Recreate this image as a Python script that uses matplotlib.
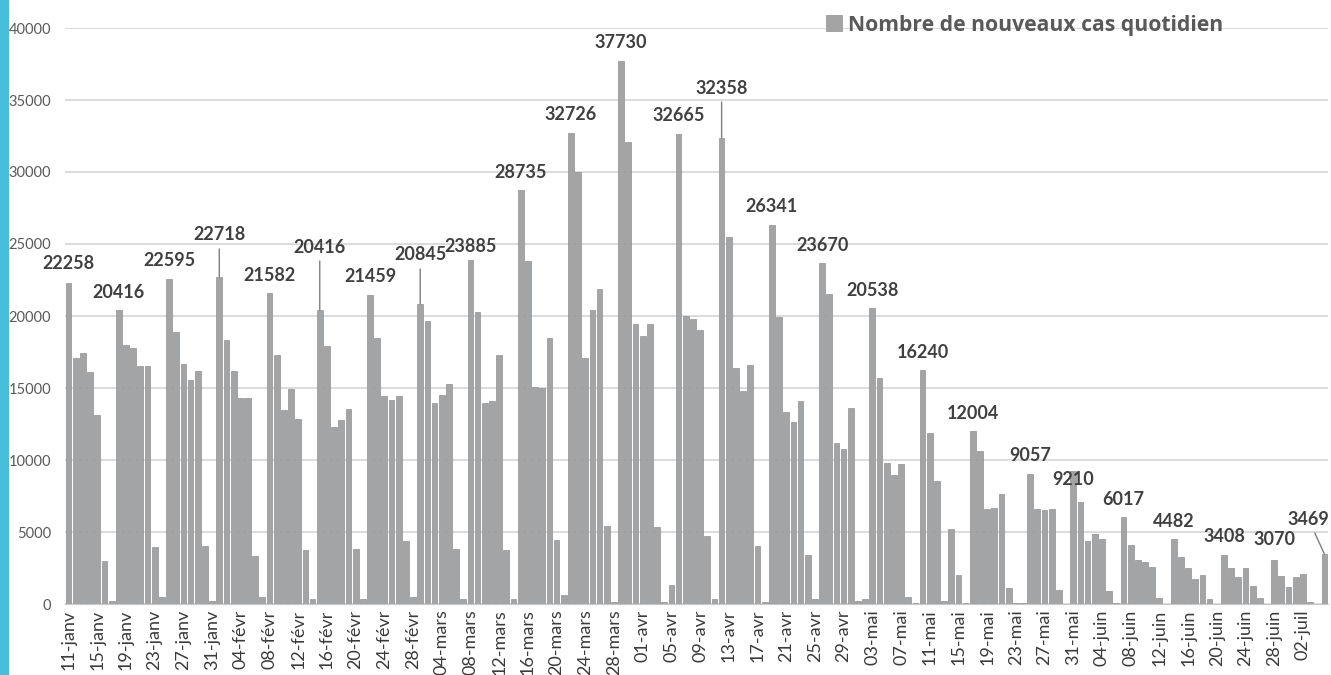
import numpy as np
import pandas as pd
import matplotlib.pyplot as plt
from matplotlib.patches import Rectangle

plt.rcParams['font.family'] = ['Lato', 'DejaVu Sans']

# daily new cases, one list per month (11-janv -> 05-juil)
janv = [22258, 17100, 17400, 16100, 13100, 3000, 200,
        20416, 18000, 17800, 16500, 16500, 3950, 500,
        22595, 18900, 16650, 15560, 16200, 4000, 230]
fevr = [22718, 18300, 16200, 14300, 14300, 3300, 500,
        21582, 17260, 13500, 14900, 12860, 3770, 330,
        20416, 17950, 12300, 12800, 13560, 3840, 330,
        21459, 18500, 14470, 14140, 14470, 4400, 470]
mars = [20845, 19650, 13950, 14500, 15300, 3840, 330,
        23885, 20300, 13950, 14100, 17260, 3770, 340,
        28735, 23800, 15060, 14970, 18460, 4430, 630,
        32726, 30000, 17100, 20400, 21860, 5430, 140,
        37730, 32060, 19460]
avr = [18630, 19460, 5340, 140,
       1340, 32665, 20000, 19770, 19060, 4710, 370,
       32358, 25500, 16400, 14770, 16570, 4030, 140,
       26341, 19900, 13340, 12630, 14110, 3430, 370,
       23670, 21500, 11200, 10770, 13630]
mai = [200, 340,
       20538, 15690, 9770, 8970, 9690, 470, 100,
       16240, 11860, 8560, 230, 5190, 1980, 70,
       12004, 10650, 6630, 6700, 7670, 1090, 90,
       70, 9057, 6630, 6500, 6580, 980, 0,
       9210]
juin = [7090, 4350, 4880, 4490, 930, 70,
        6017, 4100, 3080, 2900, 2600, 440, 0,
        4482, 3240, 2520, 1740, 2040, 370, 0,
        3408, 2480, 1900, 2480, 1230, 440, 0,
        3070, 1970, 1200]
juil = [1850, 2080, 160, 0, 3469]

cases = np.array(janv + fevr + mars + avr + mai + juin + juil)
days = pd.date_range('2021-01-11', periods=len(cases), freq='D')

mois = {1: 'janv', 2: 'févr', 3: 'mars', 4: 'avr', 5: 'mai', 6: 'juin', 7: 'juil'}
tick_labels = [f'{d.day:02d}-{mois[d.month]}' for d in days]

# bars that carry a value label
labelled = ['2021-01-11', '2021-01-18', '2021-01-25', '2021-02-01', '2021-02-08',
            '2021-02-15', '2021-02-22', '2021-03-01', '2021-03-08', '2021-03-15',
            '2021-03-22', '2021-03-29', '2021-04-06', '2021-04-12', '2021-04-19',
            '2021-04-26', '2021-05-03', '2021-05-10', '2021-05-17', '2021-05-25',
            '2021-05-31', '2021-06-07', '2021-06-14', '2021-06-21', '2021-06-28',
            '2021-07-05']

# label offsets in pixels (dx, dy) where they differ from the default
offsets = {'2021-01-11': (0, 20), '2021-02-01': (0, 42), '2021-02-15': (0, 63),
           '2021-03-01': (0, 49), '2021-03-08': (0, 14), '2021-04-12': (0, 50),
           '2021-05-31': (0, -8), '2021-07-05': (-16, 35), '2021-06-28': (0, 20)}
leaders = ['2021-02-01', '2021-02-15', '2021-03-01', '2021-04-12', '2021-07-05']

W, H = 1331, 675
fig = plt.figure(figsize=(W / 100, H / 100), dpi=100)
ax = fig.add_axes([65 / W, (H - 604) / H, (1328 - 65) / W, (604 - 28) / H])

x = np.arange(len(cases))
bars = ax.bar(x, cases, width=0.8, color='#a2a4a5', edgecolor='#8f9192',
              linewidth=0.5, zorder=2, label='Nombre de nouveaux cas quotidien')

ax.set_xlim(-0.5, len(cases) - 0.5)
ax.set_ylim(0, 40000)
ax.set_yticks(np.arange(0, 40001, 5000))
ax.yaxis.grid(True, color='#d9d9d9', linewidth=1.3, zorder=0)
ax.set_axisbelow(True)
ax.set_xticks(x[::4])
ax.set_xticklabels(tick_labels[::4], rotation=90, fontsize=13, color='#3a3a3a')
ax.tick_params(axis='y', labelsize=10.5, labelcolor='#595959', length=0, pad=10)
ax.tick_params(axis='x', length=0, pad=4)
for s in ['top', 'right', 'left']:
    ax.spines[s].set_visible(False)
ax.spines['bottom'].set_color('#c8c8c8')

for d in labelled:
    i = days.get_loc(pd.Timestamp(d))
    dx, dy = offsets.get(d, (0, 18))
    arrow = dict(arrowstyle='-', color='#7f7f7f', lw=1, shrinkA=2, shrinkB=0) if d in leaders else None
    ax.annotate(f'{cases[i]}', xy=(i, cases[i]), xytext=(dx, dy),
                textcoords='offset pixels', ha='center', va='center',
                fontsize=13, fontweight='bold', color='#404040',
                arrowprops=arrow, zorder=4)

ax.legend(handles=[bars], loc='center left', bbox_to_anchor=(826 / W, 1 - 25 / H),
          bbox_transform=fig.transFigure, frameon=False, borderpad=0,
          borderaxespad=0, handlelength=0.75, handleheight=0.75, handletextpad=0.28,
          prop={'family': ['Open Sans', 'DejaVu Sans'], 'weight': 'bold', 'size': 15.2},
          labelcolor='#595959')

fig.patches.append(Rectangle((0, 0), 8 / W, 1, transform=fig.transFigure,
                             color='#47bfdb', zorder=0))

fig.savefig('out.png', dpi=100)
